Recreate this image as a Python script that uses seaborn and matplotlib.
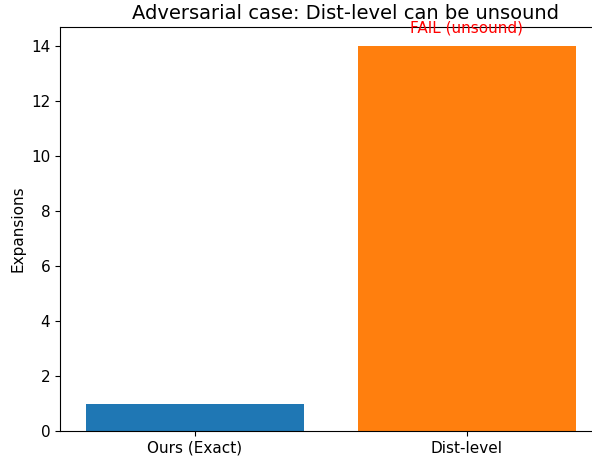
import matplotlib
matplotlib.use("Agg")
import matplotlib.pyplot as plt
import seaborn as sns
import pandas as pd

methods = ["Ours (Exact)", "Dist-level"]
expansions = [1, 14]
colors = ["#1f77b4", "#ff7f0e"]
annotation = "FAIL (unsound)"

df = pd.DataFrame({"method": methods, "expansions": expansions})

plt.rcParams["font.size"] = 11
fig = plt.figure(figsize=(5.92, 4.59), dpi=100)
ax = fig.add_axes([0.1014, 0.061, 0.963, 0.880])
sns.barplot(data=df, x="method", y="expansions", hue="method", palette=colors,
            saturation=1, width=0.8, legend=False, ax=ax)
ax.set_xlim(-0.496, 1.6)
ax.set_ylim(0, max(expansions) * 1.05)
ax.set_xlabel("")
ax.set_ylabel("Expansions")
ax.set_title("Adversarial case: Dist-level can be unsound", fontsize=14)
ax.text(1, expansions[1] + 0.4, annotation, color="red", ha="center", va="bottom")
fig.savefig("out.png", dpi=100)
